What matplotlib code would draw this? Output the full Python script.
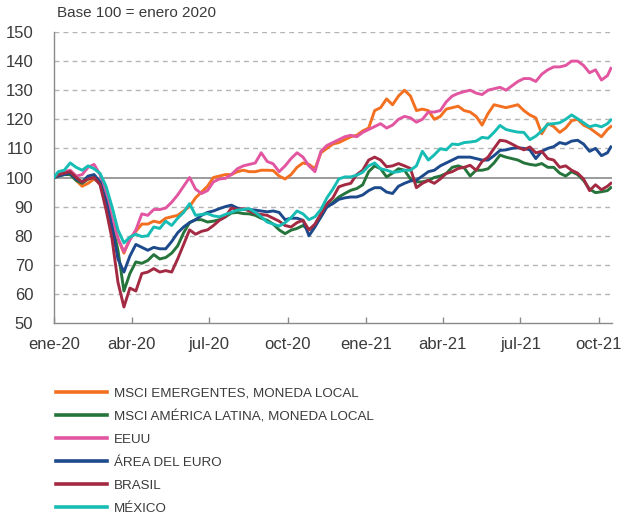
import matplotlib
matplotlib.use("Agg")
import matplotlib.pyplot as plt
from matplotlib import font_manager
from matplotlib.lines import Line2D
import pandas as pd

# ---------------- data ----------------
dates = ([pd.Timestamp("2020-01-01")]
         + list(pd.date_range("2020-01-06", "2021-10-11", freq="7D"))
         + [pd.Timestamp("2021-10-15")])

msci_em = [100,
    100.5, 101.5, 102, 99, 97, 98, 99.5, 98, 91, 86,
    79, 74, 79, 81.5, 84, 84, 85, 84.5, 86, 86.5,
    87, 88.5, 90, 93, 95, 97, 100, 100.5, 101, 101,
    102, 102.5, 102, 102, 102.5, 102.5, 102.4, 100.5, 99.5, 101,
    103.5, 105, 104.5, 103, 108.5, 110, 111.5, 112, 113, 114,
    114.5, 116, 117, 123, 124, 127, 125, 128, 130, 128,
    123, 123.5, 123, 120, 121, 123.5, 124, 124.5, 123, 122.5,
    121, 118, 122, 125, 124.5, 124, 124.5, 125, 123, 121.5,
    120.5, 115, 118.5, 117.5, 115.5, 117, 119.5, 120, 118, 117,
    115.5, 114, 116.5,
    117.5]

msci_latam = [100,
    100.5, 101, 101, 99, 98, 99.5, 100, 98, 91, 84,
    75, 61, 67, 71, 70.5, 71.5, 73.5, 72, 72.5, 74,
    76.5, 81, 84.5, 85.5, 85.5, 84.7, 85, 85.5, 86.5, 87.8,
    88, 87.6, 87.5, 87, 86, 85.3, 84, 82, 80.7, 81.9,
    82.5, 83.5, 82, 83.5, 86.5, 90, 91.5, 93.3, 94.5, 95.6,
    96.2, 97.5, 102, 104, 103, 100.2, 101.5, 103, 102.5, 99.5,
    98.5, 98.5, 99, 100, 100.5, 101.4, 103.5, 104, 103.3, 100.5,
    102.5, 102.5, 103, 105, 107.7, 107, 106.5, 106, 105, 104.5,
    104.2, 104.8, 103.5, 103.5, 101.5, 100.5, 102, 101, 99, 96,
    94.8, 95.1, 95.5,
    96.5]

eeuu = [100,
    101, 102, 102.5, 100.5, 101, 103.5, 104.5, 101, 95, 86,
    79, 74.5, 78.5, 82, 87.5, 87, 89, 89, 89.5, 91.5,
    94, 97, 100, 96, 94.5, 95.5, 98.5, 99.5, 99.7, 101,
    103, 104, 104.5, 105, 108.5, 105.5, 104.7, 102, 104, 106.5,
    108.5, 107, 104, 102, 109, 111, 112, 113, 114, 114.5,
    114, 115.5, 116.5, 117.5, 118.5, 117, 118, 120, 121, 120.5,
    119, 120, 122.5, 122.5, 123, 126, 128, 128.9, 129.5, 130,
    129, 128.5, 130, 130.5, 131, 130, 131.5, 133, 134, 134,
    133, 135.5, 137, 138, 138, 138.5, 140, 140, 138.5, 136,
    137, 133.5, 135,
    137.5]

area_euro = [100,
    100.5, 101, 101.5, 99.5, 98.5, 100.5, 101, 98.5, 92, 83,
    72, 67.5, 73, 77, 76, 75, 76, 75.5, 75.5, 78,
    81, 83, 84.5, 85.5, 87, 88, 88.5, 89.3, 90, 90.5,
    89.5, 89, 89, 88.8, 88.5, 88.2, 88.5, 88, 85.5, 86,
    86, 85.3, 80, 83, 86.5, 89.9, 91, 92.5, 93, 93.3,
    93.3, 94, 95.5, 96.5, 96.5, 95, 94.5, 97, 98, 98.8,
    99.1, 100.5, 102, 102.5, 104, 105, 106, 107, 107, 107,
    106.5, 106, 106, 107.5, 109.3, 109.5, 110, 110.2, 110, 109.5,
    106.5, 109, 110, 110.6, 112, 111.5, 112.5, 112.8, 111.5, 109,
    110, 107.5, 108.5,
    110.5]

brasil = [100,
    101, 101.5, 102, 100, 98.4, 99.5, 100, 97.5, 89, 79,
    64, 55.5, 62, 61, 67, 67.5, 68.7, 67.5, 68, 67.5,
    72, 77, 82, 80.5, 81.5, 82, 83.5, 85.3, 86.5, 89.5,
    89, 89.3, 88.5, 87.6, 87.3, 87, 86, 85, 83.5, 83,
    84.5, 85.3, 82, 84, 87.6, 91, 93, 96.8, 97.5, 98,
    101, 102.5, 106, 107, 106, 103.7, 104, 104.8, 104, 103.1,
    96.5, 98, 99, 98, 99.5, 101.4, 102, 103.1, 103.5, 104.2,
    102.5, 105.5, 107, 110, 112.8, 112.5, 111.5, 110.4, 109.5, 110.5,
    108.5, 109, 106.5, 106, 103.5, 104, 102.5, 101.5, 99.5, 95.5,
    97.5, 95.8, 97,
    98]

mexico = [100,
    102, 102.5, 105, 103.5, 102.5, 104, 103, 101.4, 97, 90,
    82, 77.5, 79.5, 80.5, 79.7, 80, 83, 82.5, 85, 83.5,
    86, 88, 91, 87, 87.3, 87.6, 86.8, 86.5, 87.3, 88,
    88.8, 89, 89.3, 88, 86.5, 84.7, 84, 83.3, 84.5, 86.2,
    88.5, 87.5, 85.5, 86.5, 89, 93, 96, 99.5, 100.2, 100.2,
    100.8, 101.8, 104, 105, 103, 102.5, 101.8, 102, 102.5, 102.5,
    104, 109, 106, 107.8, 109.9, 109.5, 111.5, 111.3, 112, 112.2,
    112.5, 113.8, 113.5, 115.5, 117.9, 116.5, 116, 115.6, 115.5, 113,
    114.2, 116, 118.3, 118.5, 118.8, 120, 121.5, 120.2, 118.8, 117.4,
    118, 117.4, 118.5,
    119.8]

series_labels = ["MSCI EMERGENTES, MONEDA LOCAL", "MSCI AMÉRICA LATINA, MONEDA LOCAL",
                 "EEUU", "ÁREA DEL EURO", "BRASIL", "MÉXICO"]
series_values = [msci_em, msci_latam, eeuu, area_euro, brasil, mexico]
series_colors = ["#F37021", "#25743B", "#E256A1", "#1D4A8C", "#A32A42", "#17BDB4"]

xtick_dates = pd.to_datetime(["2020-01-01", "2020-04-01", "2020-07-01", "2020-10-01",
                              "2021-01-01", "2021-04-01", "2021-07-01", "2021-10-01"])
xtick_labels = ["ene-20", "abr-20", "jul-20", "oct-20", "ene-21", "abr-21", "jul-21", "oct-21"]
yticks = [50, 60, 70, 80, 90, 100, 110, 120, 130, 140, 150]

# ---------------- fonts ----------------
avail = {f.name for f in font_manager.fontManager.ttflist}
main_font = "Liberation Sans" if "Liberation Sans" in avail else "DejaVu Sans"
if "Liberation Sans Narrow" in avail:
    legend_font, legend_size = "Liberation Sans Narrow", 10.5
else:
    legend_font, legend_size = main_font, 9.6
plt.rcParams["font.family"] = [main_font, "DejaVu Sans"]
txt_color = "#3a3a3a"

# ---------------- figure ----------------
fig = plt.figure(figsize=(6.35, 5.19), dpi=100)
ax = fig.add_axes([54 / 635, 1 - 323 / 519, (611.7 - 54) / 635, (323 - 32) / 519])

for v in yticks:
    if v == 100:
        ax.axhline(v, color="#8a8a8a", lw=1.2, zorder=1)
    elif v != 50:
        ax.axhline(v, color="#b5b5b5", lw=1.0, ls=(0, (3.5, 3)), zorder=1)

for vals, col, lab in zip(series_values, series_colors, series_labels):
    assert len(vals) == len(dates), (lab, len(vals), len(dates))
    ax.plot(dates, vals, color=col, lw=2.1, label=lab, zorder=3,
            solid_joinstyle="round")

ax.set_ylim(50, 150)
ax.set_xlim(pd.Timestamp("2020-01-01"), pd.Timestamp("2021-10-16"))
ax.set_yticks(yticks)
ax.set_xticks(xtick_dates)
ax.set_xticklabels(xtick_labels)

for s in ["top", "right"]:
    ax.spines[s].set_visible(False)
for s in ["left", "bottom"]:
    ax.spines[s].set_color("#8a8a8a")
    ax.spines[s].set_linewidth(1.0)

ax.tick_params(axis="y", length=0, pad=15, labelsize=12, labelcolor=txt_color)
ax.tick_params(axis="x", direction="in", length=4, width=1, color="#8a8a8a",
               pad=10, labelsize=12, labelcolor=txt_color)

fig.text(57 / 635, 1 - 13 / 519, "Base 100 = enero 2020", fontsize=11,
         color=txt_color, ha="left", va="center")

fs_px = legend_size * 100 / 72
handles = [Line2D([0], [0], color=c, lw=2.6) for c in series_colors]
leg = fig.legend(handles, series_labels, loc="upper left",
                 bbox_to_anchor=(56 / 635, 1 - 387 / 519), frameon=False,
                 prop={"family": legend_font, "size": legend_size},
                 handlelength=51 / fs_px, handletextpad=7 / fs_px,
                 labelspacing=0.8, borderaxespad=0, borderpad=0)
for t in leg.get_texts():
    t.set_color(txt_color)

fig.savefig("out.png", dpi=100)
